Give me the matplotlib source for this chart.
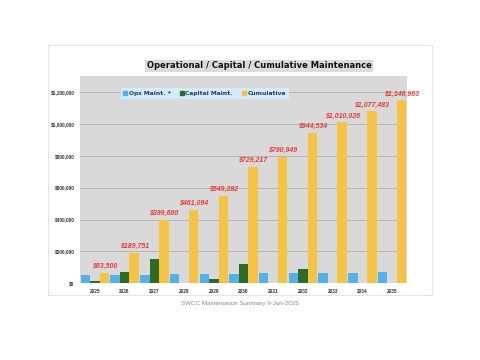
import numpy as np
import matplotlib
matplotlib.use("Agg")
from matplotlib import pyplot as plt
from matplotlib.lines import Line2D
from matplotlib.patches import Rectangle
from matplotlib.ticker import FuncFormatter

years = ["2025", "2026", "2027", "2028", "2029", "2030",
         "2031", "2032", "2033", "2034", "2035"]
ops_maint = [51700, 53251, 54849, 56494, 58189, 59935,
             61732, 63585, 65492, 67457, 69480]
capital_maint = [11800, 73000, 155000, 5000, 30000, 120000,
                 0, 90000, 0, 0, 0]
cumulative = [63500, 189751, 399600, 461094, 549282, 729217,
              790949, 944534, 1010026, 1077483, 1146963]

c_ops = "#53B1E8"
c_cap = "#2E6B27"
c_cum = "#F5C344"
c_lbl = "#EC3B35"

fig = plt.figure(figsize=(4.8, 3.6), dpi=100)
fig.patch.set_facecolor("white")

# light outer frame
fig.patches.append(Rectangle((48 / 480, 1 - 295 / 360), 384 / 480, 250 / 360,
                             transform=fig.transFigure, fill=False,
                             edgecolor="#e4e4e4", linewidth=0.8))

ax = fig.add_axes([80 / 480, 1 - 283.3 / 360, 327 / 480, 207.3 / 360])
ax.set_facecolor("#D9D9D9")

x = np.arange(len(years))
w = 0.32
ax.bar(x - w, ops_maint, w, color=c_ops, zorder=3)
ax.bar(x, capital_maint, w, color=c_cap, zorder=3)
ax.bar(x + w, cumulative, w, color=c_cum, zorder=3)

for xi, v in zip(x, cumulative):
    ax.annotate(f"${v:,.0f}", (xi + w, v), xytext=(0, 4.6),
                textcoords="offset points", ha="center", va="center",
                color=c_lbl, fontsize=5.0, fontweight="bold", style="italic",
                family="Liberation Sans", clip_on=False, zorder=4)

ax.set_xlim(-0.5, len(years) - 0.5)
ax.set_ylim(0, 1300000)
ax.set_yticks(np.arange(0, 1200001, 200000))
ax.yaxis.set_major_formatter(FuncFormatter(lambda v, p: f"${v:,.0f}"))
ax.set_xticks(x)
ax.set_xticklabels(years)
ax.tick_params(length=0, labelsize=3.4, pad=4, colors="#333333")
for t in ax.get_xticklabels() + ax.get_yticklabels():
    t.set_fontweight("bold")
    t.set_family("Liberation Sans")
ax.grid(axis="y", color="#AFAFAF", linewidth=0.6, zorder=0)
for s in ax.spines.values():
    s.set_visible(False)

handles = [Line2D([], [], marker="s", linestyle="none", markersize=2.2,
                  color=c) for c in (c_ops, c_cap, c_cum)]
leg = ax.legend(handles, ["Ops Maint. *", "Capital Maint.", "Cumulative"],
                loc="center", bbox_to_anchor=(0.382, 0.915), ncol=3,
                frameon=True, fancybox=False,
                handlelength=0.6, handletextpad=0.3, columnspacing=1.6,
                borderpad=0.45, prop={"weight": "bold", "size": 4.3})
leg.get_frame().set_facecolor("#D4ECF9")
leg.get_frame().set_edgecolor("none")
leg.get_frame().set_alpha(1)
for t in leg.get_texts():
    t.set_color("#1E3A78")

fig.text(259 / 480, 1 - 66 / 360, "Operational / Capital / Cumulative Maintenance",
         ha="center", va="center", fontsize=6, fontweight="bold", color="#111111",
         bbox=dict(facecolor="#DCDCDC", edgecolor="none", pad=1.2))

fig.text(0.5, 1 - 303 / 360, "SWCC Maintenance Summary 9-Jun-2025",
         ha="center", va="center", fontsize=4.5, color="#8a8a8a",
         family="Liberation Sans")

fig.savefig("out.png", dpi=100)
